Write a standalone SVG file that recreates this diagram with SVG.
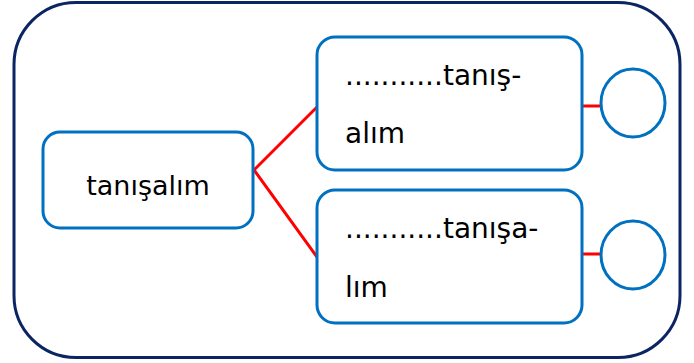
<svg xmlns="http://www.w3.org/2000/svg" width="694" height="363" viewBox="0 0 694 363">
<style>
.box{fill:#fff;stroke:#0070C0;stroke-width:3}
.circ{fill:#fff;stroke:#0070C0;stroke-width:3}
.con{stroke:#FF0000;stroke-width:3;fill:none}
.t{font-family:"DejaVu Sans",Verdana,sans-serif;fill:#000}
</style>
<rect x="14" y="2.5" width="666" height="355" rx="62" ry="62" fill="#fff" stroke="#0B2463" stroke-width="3"/>
<g id="connectors">
<polyline class="con" points="317,107 254,170 317,257"/>
<line class="con" x1="582" y1="106" x2="602" y2="106"/>
<line class="con" x1="582" y1="254" x2="602" y2="254"/>
</g>
<g id="root">
<rect class="box" x="43" y="132" width="210" height="96" rx="17"/>
<text class="t" x="148" y="195" font-size="27" text-anchor="middle">tanışalım</text>
</g>
<g id="node1">
<rect class="box" x="317" y="37" width="265" height="133" rx="18"/>
<text class="t" x="345" y="85" font-size="28">...........tanış-</text>
<text class="t" x="345" y="143" font-size="28">alım</text>
</g>
<g id="node2">
<rect class="box" x="317" y="190" width="265" height="133" rx="18"/>
<text class="t" x="345" y="238" font-size="28">...........tanışa-</text>
<text class="t" x="345" y="297" font-size="28">lım</text>
</g>
<g id="circle1">
<ellipse class="circ" cx="633" cy="103" rx="32" ry="34"/>
</g>
<g id="circle2">
<ellipse class="circ" cx="633" cy="255" rx="32" ry="34"/>
</g>
</svg>
